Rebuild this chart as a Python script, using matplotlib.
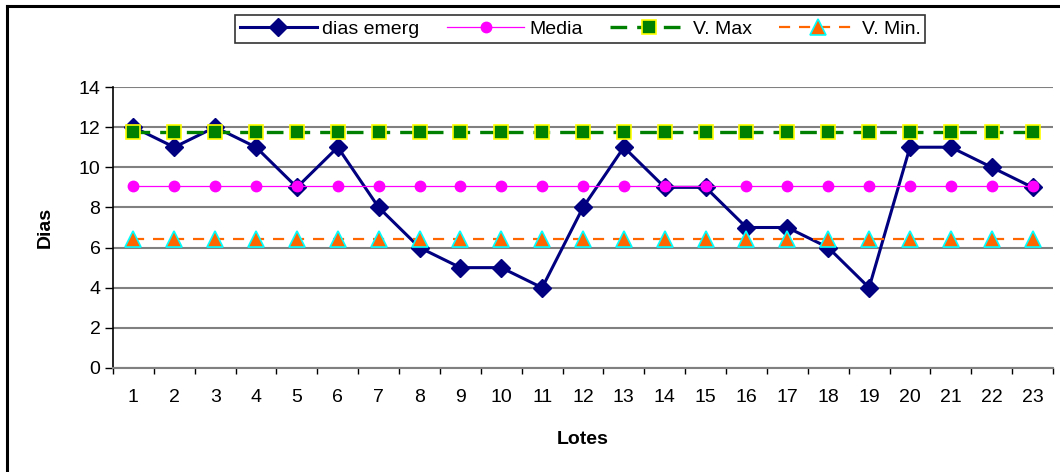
import matplotlib.pyplot as plt
from matplotlib.lines import Line2D
import numpy as np

plt.rcParams['font.family'] = ['Liberation Sans', 'DejaVu Sans']

# Data
lotes = list(range(1, 24))
dias_emerg = [12, 11, 12, 11, 9, 11, 8, 6, 5, 5, 4, 8, 11, 9, 9, 7, 7, 6, 4, 11, 11, 10, 9]
media = [9.05] * 23
v_max = [11.75] * 23
v_min = [6.45] * 23

fig = plt.figure(figsize=(10.6, 4.72), dpi=100)
ax = fig.add_axes([113 / 1060, 104 / 472, 940 / 1060, 281 / 472])

ax.plot(lotes, dias_emerg, color='#000080', lw=2.2, marker='D', ms=9,
        mfc='#000080', mec='#000080', label='dias emerg', zorder=3)
ax.plot(lotes, media, color='#ff00ff', lw=0.9, marker='o', ms=7.5,
        mfc='#ff00ff', mec='#ff00ff', label='Media', zorder=4)
ax.plot(lotes, v_max, color='#008000', lw=2.4, ls=(0, (5, 3)), marker='s', ms=10,
        mfc='#008000', mec='#ffff00', mew=1.2, label='V. Max', zorder=5)
ax.plot(lotes, v_min, color='#ff6600', lw=1.6, ls=(0, (5, 4)), marker='^', ms=12,
        mfc='#ff6600', mec='#00ffff', mew=1.2, label='V. Min.', zorder=6)

ax.set_xlim(0.5, 23.5)
ax.set_ylim(0, 14)
ax.set_yticks(np.arange(0, 15, 2))
ax.set_xticks(lotes)
ax.set_xticks(np.arange(0.5, 24, 1), minor=True)
ax.tick_params(axis='x', which='major', length=0, labelsize=14, pad=15)
ax.tick_params(axis='x', which='minor', length=4, width=1, color='black', direction='out')
ax.tick_params(axis='y', length=6, width=1, color='black', direction='out', labelsize=14, pad=3)
ax.yaxis.grid(True, color='#808080', lw=1.5)
ax.set_axisbelow(True)
for s in ['top', 'right']:
    ax.spines[s].set_visible(False)
ax.spines['bottom'].set_color('#808080')
ax.spines['bottom'].set_linewidth(1.5)
ax.spines['left'].set_linewidth(1.2)

ax.set_xlabel('Lotes', fontsize=14, fontweight='bold', labelpad=18)
ax.set_ylabel('Dias', fontsize=14, fontweight='bold', labelpad=18)

leg = fig.legend(loc='center', bbox_to_anchor=(580 / 1060, 1 - 29 / 472), ncol=4,
                 fontsize=14, frameon=True, fancybox=False, edgecolor='black',
                 handlelength=4.0, handletextpad=0.25, columnspacing=1.4,
                 borderpad=0.25, borderaxespad=0)
leg.get_frame().set_linewidth(1.2)

# chart frame (top and left edges)
fig.add_artist(Line2D([7 / 1060, 1.0], [1 - 5.5 / 472] * 2, color='black', lw=2.2,
                      transform=fig.transFigure))
fig.add_artist(Line2D([7 / 1060] * 2, [0, 1 - 5.5 / 472], color='black', lw=2.2,
                      transform=fig.transFigure))

fig.savefig('out.png', dpi=100)
